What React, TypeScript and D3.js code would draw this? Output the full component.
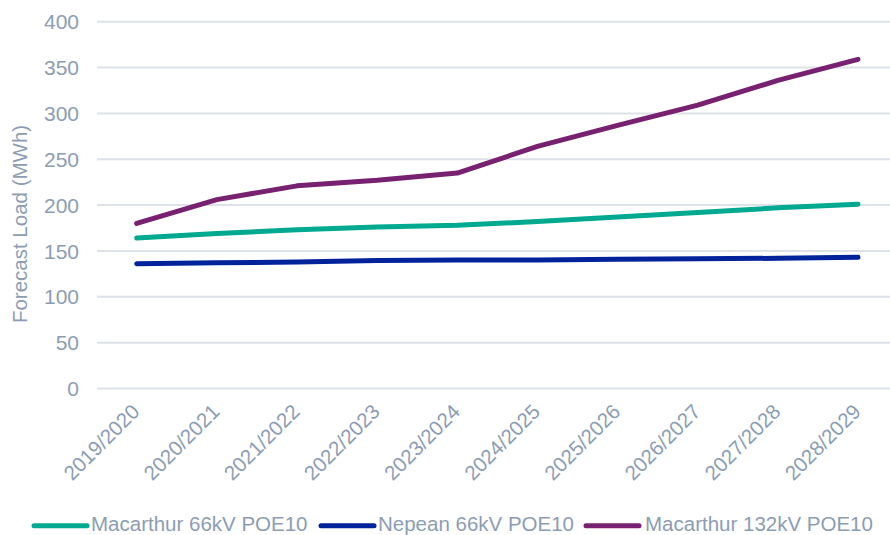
import React from "react";
import * as d3 from "d3";

const years = [
  "2019/2020", "2020/2021", "2021/2022", "2022/2023", "2023/2024",
  "2024/2025", "2025/2026", "2026/2027", "2027/2028", "2028/2029",
];
const macarthur66 = [164, 169, 173, 176, 178, 182, 187, 192, 197, 201];
const nepean66 = [136, 137, 138, 139.5, 140, 140, 141, 141.5, 142, 143];
const macarthur132 = [180, 206, 221, 227, 235, 264, 287, 309, 336, 359];
const yTicks = [0, 50, 100, 150, 200, 250, 300, 350, 400];

const seriesList = [
  { name: "Macarthur 66kV POE10", values: macarthur66, color: "#00A98F" },
  { name: "Nepean 66kV POE10", values: nepean66, color: "#00239C" },
  { name: "Macarthur 132kV POE10", values: macarthur132, color: "#772170" },
];

const W = 890;
const H = 535;
const textColor = "#8C9DB3";
const gridColor = "#DDE2E9";
const font = "'Liberation Sans', Arial, sans-serif";

export default function App() {
  const x = d3.scalePoint<string>().domain(years).range([136.7, 858]);
  const y = d3.scaleLinear().domain([0, 400]).range([388.5, 21.7]);
  const line = d3
    .line<number>()
    .x((_, i) => x(years[i]) as number)
    .y((v) => y(v));

  const legendItems = [
    { lx: 34, tx: 91 },
    { lx: 321, tx: 378 },
    { lx: 586, tx: 645 },
  ];

  return (
    <svg
      width={W}
      height={H}
      style={{ position: "absolute", left: 0, top: 0, background: "#fff" }}
      fontFamily={font}
    >
      {yTicks.map((t) => (
        <g key={t}>
          <line x1={97} x2={890} y1={y(t)} y2={y(t)} stroke={gridColor} strokeWidth={2} />
          <text
            x={79}
            y={y(t)}
            dy="0.36em"
            textAnchor="end"
            fontSize={21}
            fill={textColor}
          >
            {t}
          </text>
        </g>
      ))}
      <text
        transform={`translate(27,224) rotate(-90)`}
        textAnchor="middle"
        fontSize={20.5}
        fill={textColor}
      >
        Forecast Load (MWh)
      </text>
      {years.map((yr) => (
        <text
          key={yr}
          transform={`translate(${(x(yr) as number) + 4},${413}) rotate(-45)`}
          textAnchor="end"
          fontSize={20.5}
          fill={textColor}
        >
          {yr}
        </text>
      ))}
      {seriesList.map((s) => (
        <path
          key={s.name}
          d={line(s.values) ?? ""}
          fill="none"
          stroke={s.color}
          strokeWidth={5}
          strokeLinecap="round"
          strokeLinejoin="round"
        />
      ))}
      {seriesList.map((s, i) => (
        <g key={s.name}>
          <line
            x1={legendItems[i].lx}
            x2={legendItems[i].lx + 53}
            y1={525.7}
            y2={525.7}
            stroke={s.color}
            strokeWidth={5}
            strokeLinecap="round"
          />
          <text x={legendItems[i].tx} y={531} fontSize={20.5} fill={textColor}>
            {s.name}
          </text>
        </g>
      ))}
    </svg>
  );
}
